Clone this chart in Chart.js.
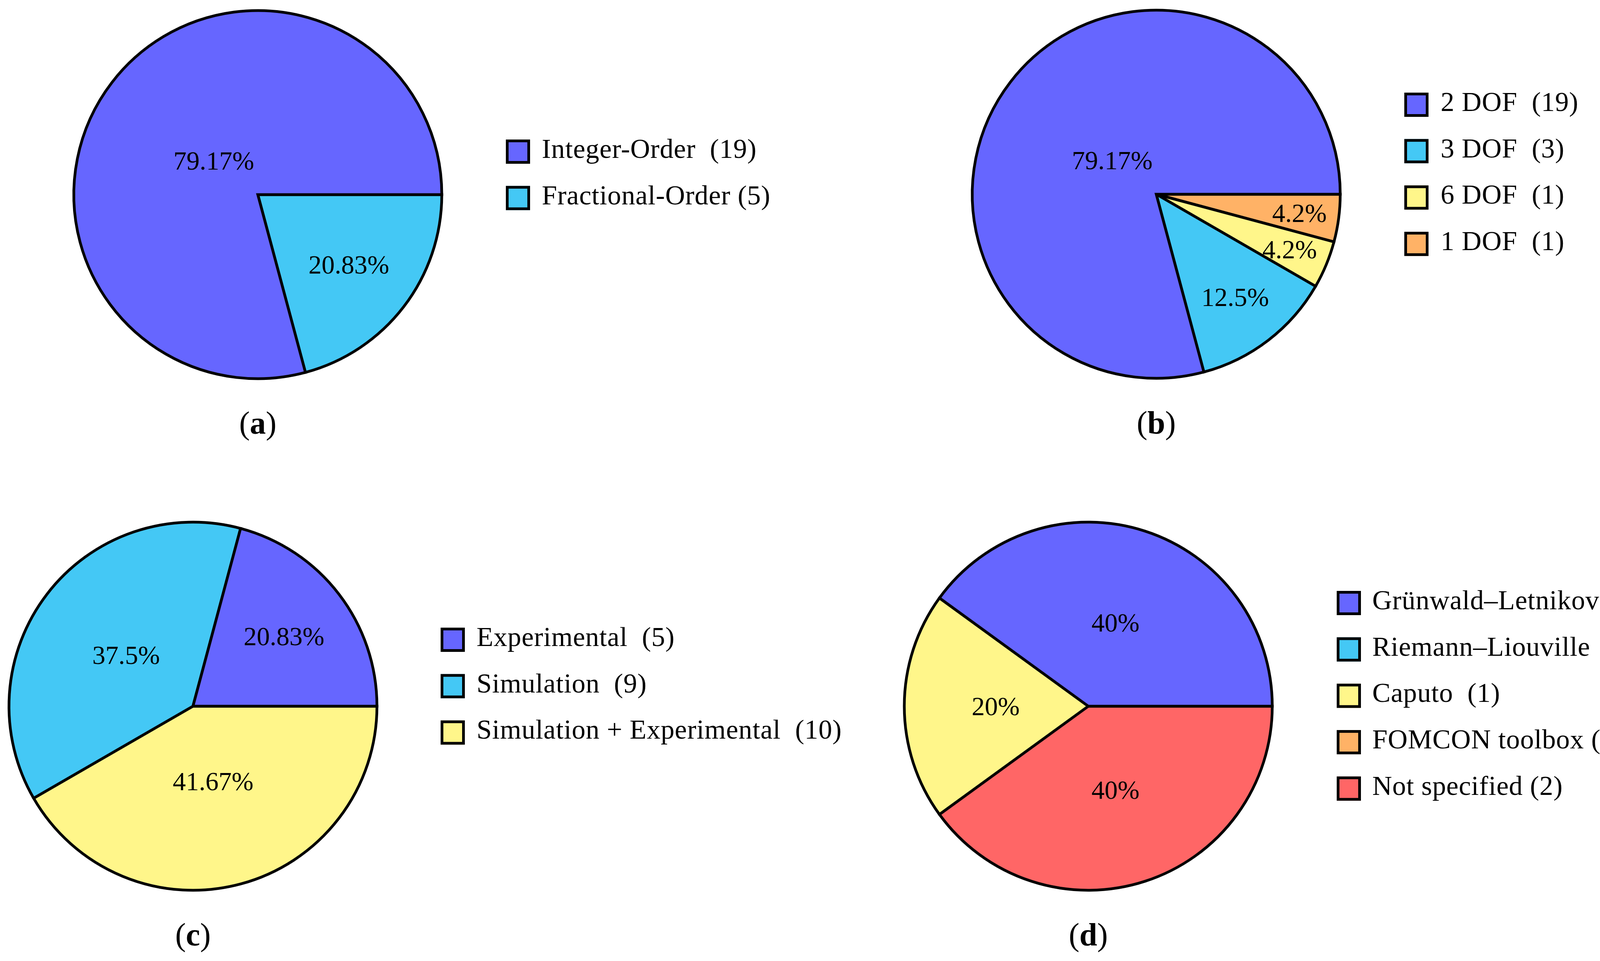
<!DOCTYPE html>
<html>
<head>
<meta charset="utf-8">
<script src="https://cdn.jsdelivr.net/npm/chart.js@4.4.1/dist/chart.umd.min.js"></script>
<style>
  html, body { margin: 0; padding: 0; background: #fff; }
  body { width: 4237px; height: 2459px; position: relative; overflow: hidden; }
  canvas { position: absolute; }
</style>
</head>
<body>
<canvas id="pa"></canvas>
<canvas id="pb"></canvas>
<canvas id="pc"></canvas>
<canvas id="pd"></canvas>
<script>
// (a) model order
const legendA = ['Integer-Order  (19)', 'Fractional-Order (5)'];
const valuesA = [19, 5];
const pctA = ['79.17%', '20.83%'];

// (b) degrees of freedom
const legendB = ['2 DOF  (19)', '3 DOF  (3)', '6 DOF  (1)', '1 DOF  (1)'];
const valuesB = [19, 3, 1, 1];
const pctB = ['79.17%', '12.5%', '4.2%', '4.2%'];

// (c) validation
const legendC = ['Experimental  (5)', 'Simulation  (9)', 'Simulation + Experimental  (10)'];
const valuesC = [5, 9, 10];
const pctC = ['20.83%', '37.5%', '41.67%'];

// (d) fractional operator definition
const legendD = ['Grünwald–Letnikov  (2)', 'Riemann–Liouville  (0)', 'Caputo  (1)', 'FOMCON toolbox (0)', 'Not specified (2)'];
const valuesD = [2, 0, 1, 0, 2];
const pctD = ['40%', '', '20%', '', '40%'];

const PURPLE = '#6666FF', CYAN = '#44C8F5', YELLOW = '#FFF68A', ORANGE = '#FFB266', RED = '#FF6666';
const FONT = '"Liberation Serif", "DejaVu Serif", serif';
const R = 471;

// canvases are transparent, so the left ones may run under the right ones
const panels = [
  { id: 'pa', tag: 'a', legend: legendA, values: valuesA, pct: pctA, colors: [PURPLE, CYAN],
    x0: 0, y0: 0, w: 2400, h: 1230, cx: 660, cy: 498, labelR: [0.30, 0.62],
    boxX: 1295, textX: 1387, row0: 388 },
  { id: 'pb', tag: 'b', legend: legendB, values: valuesB, pct: pctB, colors: [PURPLE, CYAN, YELLOW, ORANGE],
    x0: 2118, y0: 0, w: 2119, h: 1230, cx: 2960, cy: 497, labelR: [0.30, 0.70, 0.78, 0.78],
    boxX: 3595, textX: 3688, row0: 268 },
  { id: 'pc', tag: 'c', legend: legendC, values: valuesC, pct: pctC, colors: [PURPLE, CYAN, YELLOW],
    x0: 0, y0: 1230, w: 2400, h: 1229, cx: 494, cy: 1807, labelR: [0.62, 0.455, 0.42],
    boxX: 1128, textX: 1220, row0: 1637 },
  { id: 'pd', tag: 'd', legend: legendD, values: valuesD, pct: pctD, colors: [PURPLE, CYAN, YELLOW, ORANGE, RED],
    x0: 2118, y0: 1230, w: 2119, h: 1229, cx: 2786, cy: 1807, labelR: [0.475, 0, 0.50, 0, 0.475],
    boxX: 3422, textX: 3513, row0: 1543 }
];

const ROW_STEP = 118.7;
const BOX = 62;

// slices are laid out counter-clockwise from 3 o'clock, so feed them reversed
function rev(a) { return a.slice().reverse(); }

const extrasPlugin = {
  id: 'extras',
  afterDatasetsDraw(chart) {
    const p = chart.options.plugins.extras.panel;
    const ctx = chart.ctx;
    const n = p.values.length;
    const arcs = chart.getDatasetMeta(0).data;
    ctx.save();
    ctx.fillStyle = '#000';
    ctx.font = '67px ' + FONT;
    ctx.textAlign = 'center';
    ctx.textBaseline = 'alphabetic';
    arcs.forEach((arc, j) => {
      const i = n - 1 - j;
      if (!p.values[i]) return;
      const mid = (arc.startAngle + arc.endAngle) / 2;
      const d = p.labelR[i] * (R + 3);
      ctx.fillText(p.pct[i], arc.x + Math.cos(mid) * d, arc.y + Math.sin(mid) * d + 23);
    });

    // legend
    ctx.textAlign = 'left';
    ctx.font = '70px ' + FONT;
    if ('letterSpacing' in ctx) ctx.letterSpacing = '0.8px';
    p.legend.forEach((txt, i) => {
      const yc = p.row0 + i * ROW_STEP - p.y0;
      const bx = p.boxX - p.x0;
      ctx.fillStyle = p.colors[i];
      ctx.fillRect(bx, yc - BOX / 2, BOX, BOX);
      ctx.lineWidth = 7;
      ctx.strokeStyle = '#000';
      ctx.strokeRect(bx + 3.5, yc - BOX / 2 + 3.5, BOX - 7, BOX - 7);
      ctx.fillStyle = '#000';
      ctx.fillText(txt, p.textX - p.x0, yc + 16);
    });
    if ('letterSpacing' in ctx) ctx.letterSpacing = '0px';

    // caption (x)
    const parts = [['(', '82px ' + FONT], [p.tag, 'bold 82px ' + FONT], [')', '82px ' + FONT]];
    let total = 0;
    parts.forEach(q => { ctx.font = q[1]; total += ctx.measureText(q[0]).width; });
    let x = p.cx - p.x0 - total / 2;
    const by = p.cy - p.y0 + 612;
    parts.forEach(q => {
      ctx.font = q[1];
      ctx.fillText(q[0], x, by);
      x += ctx.measureText(q[0]).width;
    });
    ctx.restore();
  }
};

panels.forEach(p => {
  const canvas = document.getElementById(p.id);
  canvas.width = p.w;
  canvas.height = p.h;
  canvas.style.left = p.x0 + 'px';
  canvas.style.top = p.y0 + 'px';
  canvas.style.width = p.w + 'px';
  canvas.style.height = p.h + 'px';

  const half = R + 10;
  const lx = p.cx - p.x0, ly = p.cy - p.y0;

  new Chart(canvas.getContext('2d'), {
    type: 'pie',
    data: {
      labels: rev(p.legend),
      datasets: [{
        data: rev(p.values),
        backgroundColor: rev(p.colors),
        borderColor: '#000',
        borderWidth: 7,
        borderJoinStyle: 'miter'
      }]
    },
    options: {
      responsive: false,
      animation: false,
      devicePixelRatio: 1,
      events: [],
      rotation: 90,
      radius: R,
      layout: {
        padding: {
          left: lx - half,
          right: p.w - lx - half,
          top: ly - half,
          bottom: p.h - ly - half
        }
      },
      plugins: {
        legend: { display: false },
        tooltip: { enabled: false },
        extras: { panel: p }
      }
    },
    plugins: [extrasPlugin]
  });
});
</script>
</body>
</html>
